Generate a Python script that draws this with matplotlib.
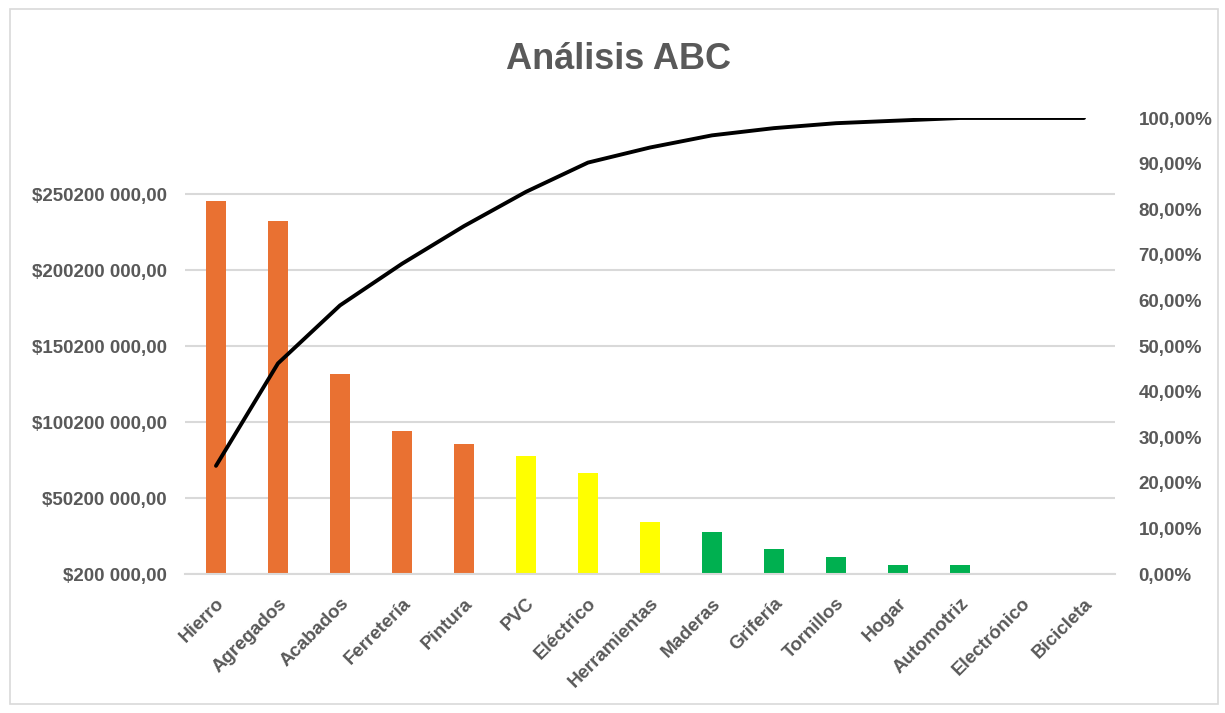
import matplotlib
matplotlib.use("Agg")
import matplotlib.pyplot as plt
from matplotlib.patches import Rectangle
import numpy as np

categories = ["Hierro", "Agregados", "Acabados", "Ferretería", "Pintura", "PVC",
              "Eléctrico", "Herramientas", "Maderas", "Grifería", "Tornillos",
              "Hogar", "Automotriz", "Electrónico", "Bicicleta"]
ventas = [245.6e6, 232.6e6, 131.6e6, 94.5e6, 85.5e6, 77.8e6, 66.4e6, 34.2e6,
          27.6e6, 16.4e6, 11.2e6, 5.9e6, 5.9e6, 0.0, 0.0]
clase = ["A", "A", "A", "A", "A", "B", "B", "B", "C", "C", "C", "C", "C", "C", "C"]
left_ticks = [200000, 50200000, 100200000, 150200000, 200200000, 250200000]
left_labels = ["$200 000,00", "$50200 000,00", "$100200 000,00", "$150200 000,00",
               "$200200 000,00", "$250200 000,00"]
pct_ticks = [0.0, 0.1, 0.2, 0.3, 0.4, 0.5, 0.6, 0.7, 0.8, 0.9, 1.0]
pct_labels = ["0,00%", "10,00%", "20,00%", "30,00%", "40,00%", "50,00%",
              "60,00%", "70,00%", "80,00%", "90,00%", "100,00%"]

colores = {"A": "#E97132", "B": "#FFFF00", "C": "#00B050"}
texto = "#595959"
grid = "#D9D9D9"
plt.rcParams["font.family"] = ["Liberation Sans", "DejaVu Sans"]

acumulado = np.cumsum(ventas) / np.sum(ventas)
base = left_ticks[0]

fig = plt.figure(figsize=(12.25, 7.13), dpi=100)
fig.patches.append(Rectangle((0.008, 0.012), 0.986, 0.975, transform=fig.transFigure,
                             fill=False, edgecolor="#D9D9D9", linewidth=1.2))
ax = fig.add_axes([0.1510, 0.1949, 0.7592, 0.6396])
x = np.arange(len(categories))

alturas = [max(v - base, 0) for v in ventas]
ax.bar(x, alturas, width=0.33, bottom=base,
       color=[colores[c] for c in clase], zorder=2)
ax.set_xlim(-0.5, len(categories) - 0.5)
ax.set_ylim(base, 300200000)
ax.set_yticks(left_ticks)
ax.set_yticklabels(left_labels, fontsize=13.5, fontweight="bold", color=texto)
ax.yaxis.grid(True, color=grid, linewidth=1.5, zorder=0)
ax.set_axisbelow(True)
ax.tick_params(axis="y", length=0, pad=13)
ax.set_xticks(x)
ax.set_xticklabels(categories, rotation=45, ha="right", rotation_mode="anchor",
                   fontsize=13.5, fontweight="bold", color=texto)
ax.tick_params(axis="x", length=0, pad=15)
for s in ["top", "right", "left"]:
    ax.spines[s].set_visible(False)
ax.spines["bottom"].set_color(grid)
ax.spines["bottom"].set_linewidth(1.5)

ax2 = ax.twinx()
ax2.plot(x, acumulado, color="black", linewidth=2.8, solid_capstyle="round", zorder=3)
ax2.set_ylim(0, 1.0)
ax2.set_yticks(pct_ticks)
ax2.set_yticklabels(pct_labels, fontsize=13.5, fontweight="bold", color=texto)
ax2.tick_params(axis="y", length=0, pad=17)
for s in ax2.spines.values():
    s.set_visible(False)

fig.text(0.505, 0.917, "Análisis ABC", ha="center", va="center",
         fontsize=26, fontweight="bold", color=texto)

fig.savefig("out.png", dpi=100, facecolor="white")
